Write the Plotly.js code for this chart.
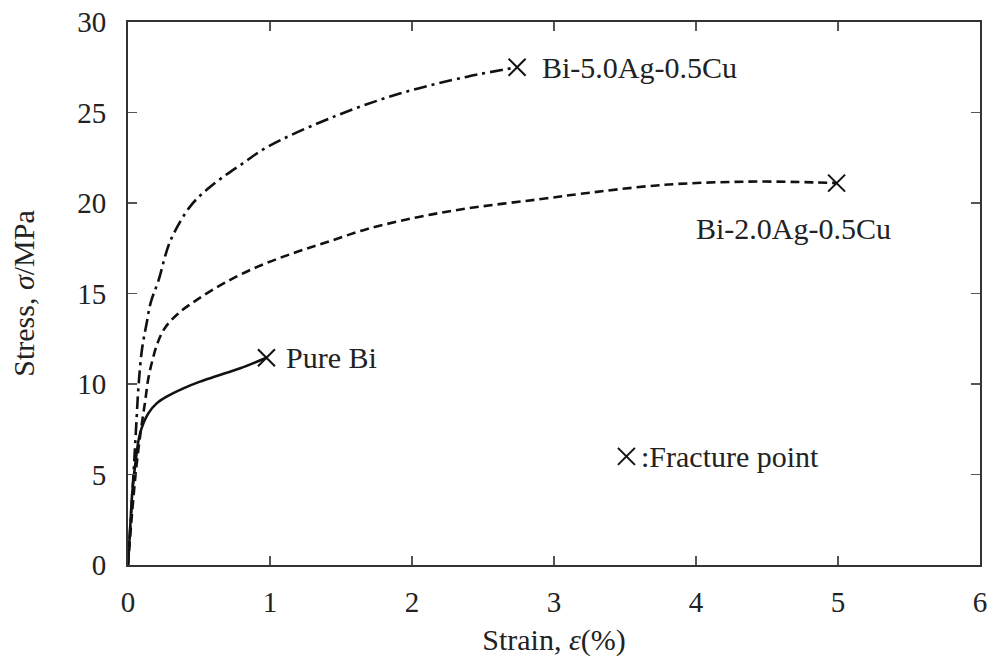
<!DOCTYPE html>
<html>
<head>
<meta charset="utf-8">
<script src="https://cdn.plot.ly/plotly-3.0.1.min.js"></script>
<style>html,body{margin:0;padding:0;background:#fff;}#chart{width:990px;height:658px;}</style>
</head>
<body>
<div id="chart"></div>
<script>
// Pure Bi
const pureBiStrain = [0, 0.015, 0.03, 0.049, 0.085, 0.143, 0.202, 0.272, 0.39, 0.507, 0.625, 0.79, 0.975];
const pureBiStress = [0, 2.0, 4.0, 5.43, 7.28, 8.38, 8.93, 9.30, 9.76, 10.13, 10.44, 10.87, 11.45];
// Bi-2.0Ag-0.5Cu
const bi2Strain = [0, 0.03, 0.06, 0.09, 0.12, 0.143, 0.175, 0.21, 0.26, 0.354, 0.495, 0.683, 0.918, 1.153, 1.387, 1.68, 2.03, 2.39, 2.95, 3.18, 3.77, 4.36, 4.83, 4.99];
const bi2Stress = [0, 3.0, 5.5, 7.4, 9.0, 10.3, 11.4, 12.3, 13.1, 13.9, 14.7, 15.6, 16.5, 17.2, 17.8, 18.55, 19.2, 19.7, 20.26, 20.5, 21.0, 21.18, 21.14, 21.1];
// Bi-5.0Ag-0.5Cu
const bi5Strain = [0, 0.02, 0.04, 0.06, 0.075, 0.1, 0.13, 0.16, 0.214, 0.298, 0.437, 0.55, 0.669, 0.82, 0.979, 1.45, 1.92, 2.39, 2.74];
const bi5Stress = [0, 2.6, 5.2, 8.0, 10.0, 12.0, 13.3, 14.5, 15.7, 17.9, 19.8, 20.7, 21.44, 22.25, 23.09, 24.77, 26.06, 26.98, 27.5];
// Fracture points
const fractureStrain = [0.975, 4.99, 2.74];
const fractureStress = [11.45, 21.1, 27.5];
// Legend key marker
const keyStrain = [3.51];
const keyStress = [6.0];
const seriesLabels = ["Pure Bi", "Bi-2.0Ag-0.5Cu", "Bi-5.0Ag-0.5Cu", ":Fracture point"];
const xTicks = [0, 1, 2, 3, 4, 5, 6];
const yTicks = [0, 5, 10, 15, 20, 25, 30];

const FONT = "'Liberation Serif', 'Times New Roman', serif";
const lineBase = {color: "#111", width: 2.6};

const traces = [
  {x: pureBiStrain, y: pureBiStress, mode: "lines", line: Object.assign({}, lineBase, {dash: "solid", shape: "spline", smoothing: 1})},
  {x: bi2Strain, y: bi2Stress, mode: "lines", line: Object.assign({}, lineBase, {dash: "9px,5px", shape: "spline", smoothing: 1})},
  {x: bi5Strain, y: bi5Stress, mode: "lines", line: Object.assign({}, lineBase, {dash: "13px,5px,3px,5px", shape: "spline", smoothing: 1})},
  {x: fractureStrain, y: fractureStress, mode: "markers", marker: {symbol: "x-thin-open", size: 17, color: "#111", line: {color: "#111", width: 2}}},
  {x: keyStrain, y: keyStress, mode: "markers", marker: {symbol: "x-thin-open", size: 17, color: "#111", line: {color: "#111", width: 2}}}
];

const annFont = {family: FONT, size: 30, color: "#222"};
const layout = {
  width: 990, height: 658,
  margin: {l: 128, r: 10, t: 22, b: 93},
  paper_bgcolor: "#fff", plot_bgcolor: "#fff",
  showlegend: false,
  font: {family: FONT, size: 29, color: "#222"},
  xaxis: {
    range: [0, 6], tickvals: xTicks, ticktext: xTicks.map(String),
    showgrid: false, zeroline: false,
    showline: true, linecolor: "#333", linewidth: 2, mirror: "ticks",
    ticks: "inside", ticklen: 9, tickwidth: 1.5, tickcolor: "#555",
    tickfont: {family: FONT, size: 29, color: "#222"},
    ticklabelstandoff: 10,
    title: {text: "Strain, <i>ε</i>(%)", font: {family: FONT, size: 30, color: "#222"}, standoff: 12}
  },
  yaxis: {
    range: [0, 30], tickvals: yTicks, ticktext: yTicks.map(String),
    showgrid: false, zeroline: false,
    showline: true, linecolor: "#333", linewidth: 2, mirror: "ticks",
    ticks: "inside", ticklen: 9, tickwidth: 1.5, tickcolor: "#555",
    tickfont: {family: FONT, size: 29, color: "#222"},
    ticklabelstandoff: 14,
    title: {text: "Stress, <i>σ</i>/MPa", font: {family: FONT, size: 30, color: "#222"}, standoff: 34}
  },
  annotations: [
    {x: 1.1, y: 11.45, xref: "x", yref: "y", text: seriesLabels[0], showarrow: false, xanchor: "left", yanchor: "middle", font: annFont},
    {x: 4.69, y: 18.6, xref: "x", yref: "y", text: seriesLabels[1], showarrow: false, xanchor: "center", yanchor: "middle", font: annFont},
    {x: 2.9, y: 27.5, xref: "x", yref: "y", text: seriesLabels[2], showarrow: false, xanchor: "left", yanchor: "middle", font: annFont},
    {x: 3.6, y: 6.0, xref: "x", yref: "y", text: seriesLabels[3], showarrow: false, xanchor: "left", yanchor: "middle", font: annFont}
  ]
};

Plotly.newPlot("chart", traces, layout, {displayModeBar: false, staticPlot: true});
</script>
</body>
</html>
